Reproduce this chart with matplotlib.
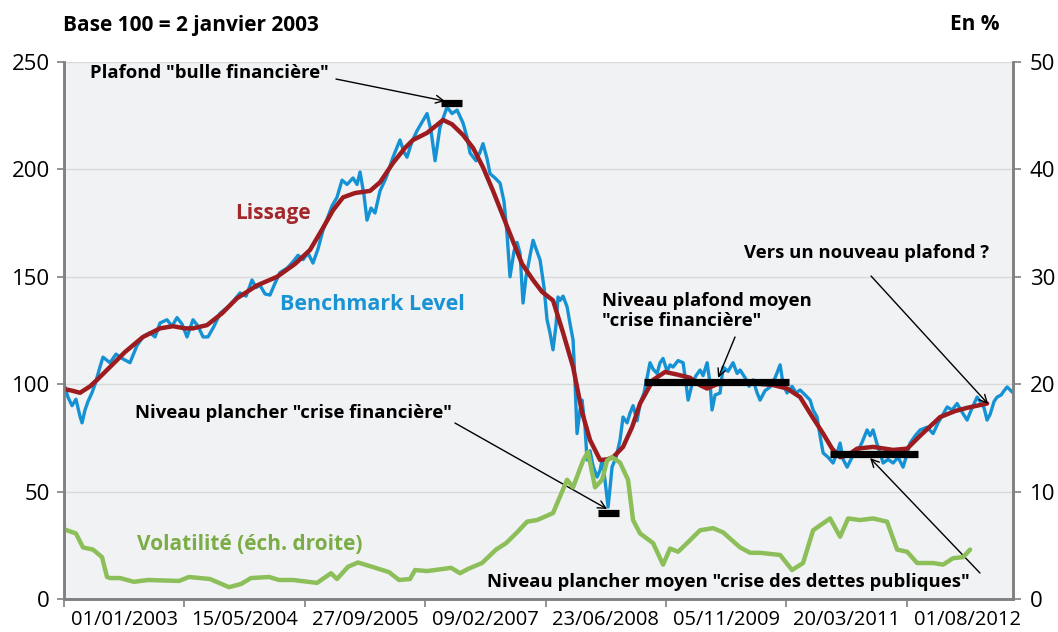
import matplotlib

matplotlib.use("Agg")

import matplotlib.pyplot as plt
import matplotlib.ticker as mticker
import numpy as np
import pandas as pd

plt.rcParams["font.family"] = ["Open Sans", "DejaVu Sans"]

BLUE = "#1592d4"
RED = "#9c1c20"
GREEN = "#8cbf5a"
GRID_COLOR = "#d9d9d9"
SPINE_COLOR = "#808080"
PLOT_BG = "#f1f2f4"

BASE = pd.Timestamp("2003-01-01")

# benchmark level (base 100), time in decimal years
level_t = [
    2003.000, 2003.045, 2003.091, 2003.136, 2003.182, 2003.205, 2003.239, 2003.273,
    2003.318, 2003.353, 2003.409, 2003.443, 2003.523, 2003.591, 2003.660, 2003.750,
    2003.830, 2003.898, 2003.978, 2004.035, 2004.092, 2004.171, 2004.228, 2004.285,
    2004.342, 2004.399, 2004.467, 2004.524, 2004.581, 2004.637, 2004.706, 2004.774,
    2004.865, 2004.933, 2005.001, 2005.070, 2005.138, 2005.183, 2005.229, 2005.286,
    2005.342, 2005.399, 2005.456, 2005.536, 2005.604, 2005.661, 2005.718, 2005.775,
    2005.831, 2005.888, 2005.945, 2006.002, 2006.047, 2006.104, 2006.161, 2006.218,
    2006.286, 2006.332, 2006.366, 2006.411, 2006.445, 2006.491, 2006.536, 2006.593,
    2006.661, 2006.741, 2006.820, 2006.866, 2006.900, 2006.957, 2007.014, 2007.071,
    2007.128, 2007.173, 2007.219, 2007.275, 2007.321, 2007.355, 2007.412, 2007.469,
    2007.537, 2007.582, 2007.617, 2007.685, 2007.730, 2007.764, 2007.810, 2007.844,
    2007.901, 2007.958, 2008.003, 2008.037, 2008.071, 2008.117, 2008.151, 2008.185,
    2008.219, 2008.253, 2008.299, 2008.333, 2008.367, 2008.413, 2008.458, 2008.492,
    2008.526, 2008.560, 2008.595, 2008.617, 2008.640, 2008.674, 2008.720, 2008.754,
    2008.788, 2008.811, 2008.833, 2008.867, 2008.890, 2008.924, 2008.947, 2008.981,
    2009.015, 2009.061, 2009.095, 2009.118, 2009.152, 2009.186, 2009.209, 2009.231,
    2009.277, 2009.322, 2009.356, 2009.402, 2009.436, 2009.470, 2009.516, 2009.550,
    2009.595, 2009.629, 2009.663, 2009.698, 2009.743, 2009.777, 2009.811, 2009.857,
    2009.891, 2009.925, 2009.982, 2010.039, 2010.073, 2010.096, 2010.141, 2010.186,
    2010.232, 2010.266, 2010.312, 2010.346, 2010.368, 2010.403, 2010.459, 2010.494,
    2010.550, 2010.607, 2010.653, 2010.687, 2010.744, 2010.789, 2010.835, 2010.880,
    2010.914, 2010.971, 2011.028, 2011.085, 2011.142, 2011.176, 2011.221, 2011.278,
    2011.324, 2011.369, 2011.426, 2011.483, 2011.517, 2011.562, 2011.596, 2011.631,
    2011.687, 2011.744, 2011.790, 2011.824, 2011.858, 2011.904, 2011.960, 2012.017,
    2012.074, 2012.131, 2012.165, 2012.199, 2012.245, 2012.279, 2012.313, 2012.370,
    2012.427, 2012.483, 2012.540, 2012.574, 2012.620, 2012.677, 2012.734, 2012.813,
    2012.881, 2012.938, 2012.995, 2013.041, 2013.097, 2013.154, 2013.211, 2013.268,
    2013.325, 2013.382, 2013.416, 2013.461, 2013.495, 2013.530, 2013.575, 2013.609,
    2013.655, 2013.689, 2013.723, 2013.780,
]
level = [
    100, 94, 90, 93, 85, 82, 88, 92,
    96, 100, 108, 112.6, 110, 114, 112, 110,
    118, 122, 124, 122, 128.5, 130, 127, 131,
    128, 122, 130, 127, 122, 122, 127, 133,
    136, 139, 142.5, 141, 148.5, 145, 146, 142,
    141.5, 147, 152, 154, 157, 160, 158, 161,
    156.4, 163, 171.8, 178, 183, 187, 195, 193,
    196, 193, 198.8, 188, 176.4, 182, 179.7, 190,
    196, 205.7, 213.7, 208, 205.7, 213, 218, 222,
    226, 218, 204, 219.7, 225, 229, 226, 227.6,
    221.6, 215, 207.6, 204, 208, 212, 205, 198,
    196, 193.6, 185, 170, 150, 162, 166, 161,
    137.8, 150, 160, 167, 163, 157.8, 145, 130,
    123.8, 116, 128, 140.6, 139, 141, 136, 128,
    120.6, 100, 77, 88, 92.6, 80, 64.7, 69,
    62, 56.8, 60, 64.7, 55, 42.8, 52, 61.4,
    66, 74, 84.7, 82, 86.6, 90, 83, 91,
    96, 103, 110, 107, 105, 110, 112, 106,
    109, 108, 111, 110, 100, 92.6, 100, 104,
    106.6, 104, 110, 100, 88, 95, 95.9, 108,
    106, 110, 105, 106.6, 103, 99, 102, 96,
    92.6, 97, 98.7, 103, 109, 100, 95.9, 99,
    96, 97.3, 95, 92.6, 88, 84.7, 76, 68,
    66, 63.3, 68, 72.6, 65, 61.4, 66, 68,
    73, 78.7, 76, 78.7, 72, 68, 63.3, 65,
    63.3, 66, 61.4, 66, 72.6, 76, 78.7, 80,
    77, 82, 86, 89.4, 88, 91, 87, 83.3,
    89, 94, 92, 89, 83.3, 86, 92, 94,
    95, 97, 98.7, 96.4,
]

# smoothed level ("Lissage")
smooth_t = [
    2003.000, 2003.091, 2003.182, 2003.296, 2003.375, 2003.523, 2003.694, 2003.898,
    2004.092, 2004.239, 2004.376, 2004.467, 2004.626, 2004.797, 2004.967, 2005.195,
    2005.422, 2005.627, 2005.797, 2005.934, 2006.059, 2006.173, 2006.309, 2006.480,
    2006.593, 2006.741, 2006.877, 2006.968, 2007.128, 2007.310, 2007.412, 2007.537,
    2007.651, 2007.764, 2007.878, 2008.071, 2008.208, 2008.333, 2008.435, 2008.560,
    2008.674, 2008.788, 2008.890, 2008.981, 2009.095, 2009.175, 2009.243, 2009.356,
    2009.459, 2009.550, 2009.698, 2009.834, 2009.970, 2010.118, 2010.232, 2010.312,
    2010.425, 2010.539, 2010.801, 2011.062, 2011.221, 2011.369, 2011.505, 2011.631,
    2011.733, 2011.824, 2011.915, 2012.017, 2012.199, 2012.427, 2012.586, 2012.734,
    2012.961, 2013.132, 2013.268, 2013.495,
]
smooth = [
    97.8, 97, 96, 99, 102, 108, 115, 122,
    126, 127, 126, 126, 127.5, 133, 140, 146,
    150, 156, 162.5, 172, 181, 187, 189, 190,
    194, 203, 210, 213.7, 217, 223, 221, 216,
    210, 201, 190, 170, 156, 148.5, 143, 139,
    124, 108, 87, 74, 64.7, 65, 66, 70.8,
    80, 91, 102, 105.7, 104.5, 103, 99.5, 98,
    100, 100.5, 100.5, 99.6, 98, 94, 85, 77,
    70, 66, 67, 70, 70.8, 69.4, 70, 76,
    84.7, 87.5, 89, 91,
]

# volatility, right-hand scale (%)
vol_t = [
    2003.000, 2003.034, 2003.136, 2003.216, 2003.330, 2003.432, 2003.489, 2003.523,
    2003.637, 2003.796, 2003.955, 2004.308, 2004.421, 2004.660, 2004.876, 2005.013,
    2005.126, 2005.331, 2005.445, 2005.604, 2005.877, 2006.036, 2006.104, 2006.229,
    2006.343, 2006.502, 2006.696, 2006.809, 2006.934, 2006.991, 2007.128, 2007.401,
    2007.503, 2007.594, 2007.753, 2007.912, 2008.026, 2008.151, 2008.265, 2008.378,
    2008.560, 2008.720, 2008.788, 2008.902, 2008.958, 2009.038, 2009.118, 2009.175,
    2009.231, 2009.322, 2009.413, 2009.470, 2009.550, 2009.698, 2009.811, 2009.891,
    2009.982, 2010.084, 2010.232, 2010.380, 2010.494, 2010.687, 2010.801, 2010.914,
    2011.142, 2011.278, 2011.403, 2011.517, 2011.710, 2011.824, 2011.915, 2012.051,
    2012.199, 2012.358, 2012.472, 2012.586, 2012.700, 2012.881, 2012.995, 2013.109,
    2013.222, 2013.302,
]
vol = [
    6.5, 6.4, 6.1, 4.8, 4.6, 3.9, 2.05, 1.95,
    1.95, 1.6, 1.77, 1.68, 2.05, 1.86, 1.1, 1.4,
    1.95, 2.05, 1.77, 1.77, 1.5, 2.4, 1.86, 3.0,
    3.4, 3.0, 2.5, 1.77, 1.86, 2.7, 2.6, 2.9,
    2.4, 2.8, 3.35, 4.6, 5.2, 6.2, 7.2, 7.35,
    8.0, 11.1, 10.4, 12.9, 13.7, 10.4, 11.1, 12.9,
    13.2, 12.7, 11.1, 7.35, 6.1, 5.2, 3.2, 4.7,
    4.4, 5.2, 6.4, 6.6, 6.2, 4.8, 4.3, 4.3,
    4.1, 2.7, 3.35, 6.4, 7.5, 5.8, 7.5, 7.35,
    7.5, 7.2, 4.6, 4.4, 3.35, 3.35, 3.2, 3.8,
    3.9, 4.6,
]

# floor / ceiling markers (start, end in decimal years, level)
marker_start = [2007.287, 2009.072, 2009.595, 2011.710]
marker_end = [2007.526, 2009.311, 2011.244, 2012.711]
marker_level = [231, 40, 101.2, 67.7]

tick_step_days = 500
n_ticks = 8


def to_dates(years):
    return BASE + pd.to_timedelta((np.asarray(years) - 2003.0) * 365.25, unit="D")


fig = plt.figure(figsize=(10.58, 6.32), dpi=100)
ax = fig.add_axes([64 / 1058, 33 / 632, 949 / 1058, 537 / 632])
ax2 = ax.twinx()

ax.set_facecolor(PLOT_BG)
ax.plot(to_dates(level_t), level, color=BLUE, lw=2.4, zorder=3)
ax.plot(to_dates(smooth_t), smooth, color=RED, lw=3.2, zorder=4, solid_capstyle="round")
ax2.plot(to_dates(vol_t), vol, color=GREEN, lw=3.2, solid_capstyle="round")

for start, end, value in zip(marker_start, marker_end, marker_level):
    ax.plot(to_dates([start, end]), [value, value], color="black", lw=5.2,
            solid_capstyle="butt", zorder=6)

ax.set_ylim(0, 250)
ax2.set_ylim(0, 50)
ax.set_yticks(range(0, 251, 50))
ax2.set_yticks(range(0, 51, 10))
ax.grid(axis="y", color=GRID_COLOR, lw=1.0)
ax.set_axisbelow(True)

tick_dates = [BASE + pd.Timedelta(days=tick_step_days * k) for k in range(n_ticks)]
label_dates = [d + pd.Timedelta(days=tick_step_days / 2) for d in tick_dates]
tick_labels = [d.strftime("%d/%m/%Y") for d in tick_dates]
ax.set_xlim(BASE, BASE + pd.Timedelta(days=3941))
ax.xaxis.set_major_locator(mticker.FixedLocator(matplotlib.dates.date2num(tick_dates)))
ax.xaxis.set_major_formatter(mticker.NullFormatter())
ax.xaxis.set_minor_locator(mticker.FixedLocator(matplotlib.dates.date2num(label_dates)))
ax.xaxis.set_minor_formatter(mticker.FixedFormatter(tick_labels))
ax.tick_params(axis="x", which="major", length=6, width=1.2, color=SPINE_COLOR)
ax.tick_params(axis="x", which="minor", length=0, pad=8, labelsize=14.5)
ax.tick_params(axis="y", length=5, width=1.2, color=SPINE_COLOR, labelsize=16, pad=5)
ax2.tick_params(axis="y", length=6, width=1.2, color=SPINE_COLOR, labelsize=16, pad=6)

for a in (ax, ax2):
    a.spines["top"].set_visible(False)
    for side in ("left", "right", "bottom"):
        a.spines[side].set_color(SPINE_COLOR)
        a.spines[side].set_linewidth(1.8)

# series labels
ax.text(0.2202, 0.7188, "Lissage", transform=ax.transAxes, color="#a3262a",
        fontsize=15, fontweight="bold", ha="center", va="center")
ax.text(0.3246, 0.5475, "Benchmark Level", transform=ax.transAxes, color="#1a93d4",
        fontsize=15.5, fontweight="bold", ha="center", va="center")
ax.text(0.196, 0.1006, "Volatilité (éch. droite)", transform=ax.transAxes, color="#7aad45",
        fontsize=15, fontweight="bold", ha="center", va="center")

# annotations
notes = [
    ('Plafond "bulle financière"', (0.0274, 0.9795), (0.2866, 0.9683), (2007.332, 231.8)),
    ('Niveau plancher "crise financière"', (0.0748, 0.3464), (0.4120, 0.3277), (2009.175, 41.9)),
    ('Niveau plafond moyen\n"crise financière"', (0.5669, 0.5363), (0.7071, 0.4879), (2010.437, 102.9)),
    ('Niveau plancher moyen "crise des dettes publiques"', (0.4457, 0.0317), (0.9652, 0.0484), (2012.165, 65.6)),
    ("Vers un nouveau plafond ?", (0.7165, 0.6443), (0.8504, 0.6015), (2013.507, 90.8)),
]
for text, text_pos, start, tip in notes:
    ax.text(*text_pos, text, transform=ax.transAxes, fontsize=13.3, fontweight="bold",
            ha="left", va="center", linespacing=1.2, zorder=7)
    ax.annotate("", xy=(to_dates([tip[0]])[0], tip[1]), xycoords="data",
                xytext=start, textcoords="axes fraction",
                arrowprops=dict(arrowstyle="->", color="black", lw=1.0,
                                shrinkA=0, shrinkB=0, mutation_scale=14),
                zorder=7)

fig.text(63 / 1058, 1 - 25 / 632, "Base 100 = 2 janvier 2003", fontsize=15,
         fontweight="bold", ha="left", va="center")
fig.text(1000 / 1058, 1 - 25 / 632, "En %", fontsize=15, fontweight="bold",
         ha="right", va="center")

fig.savefig("out.png", dpi=100)
